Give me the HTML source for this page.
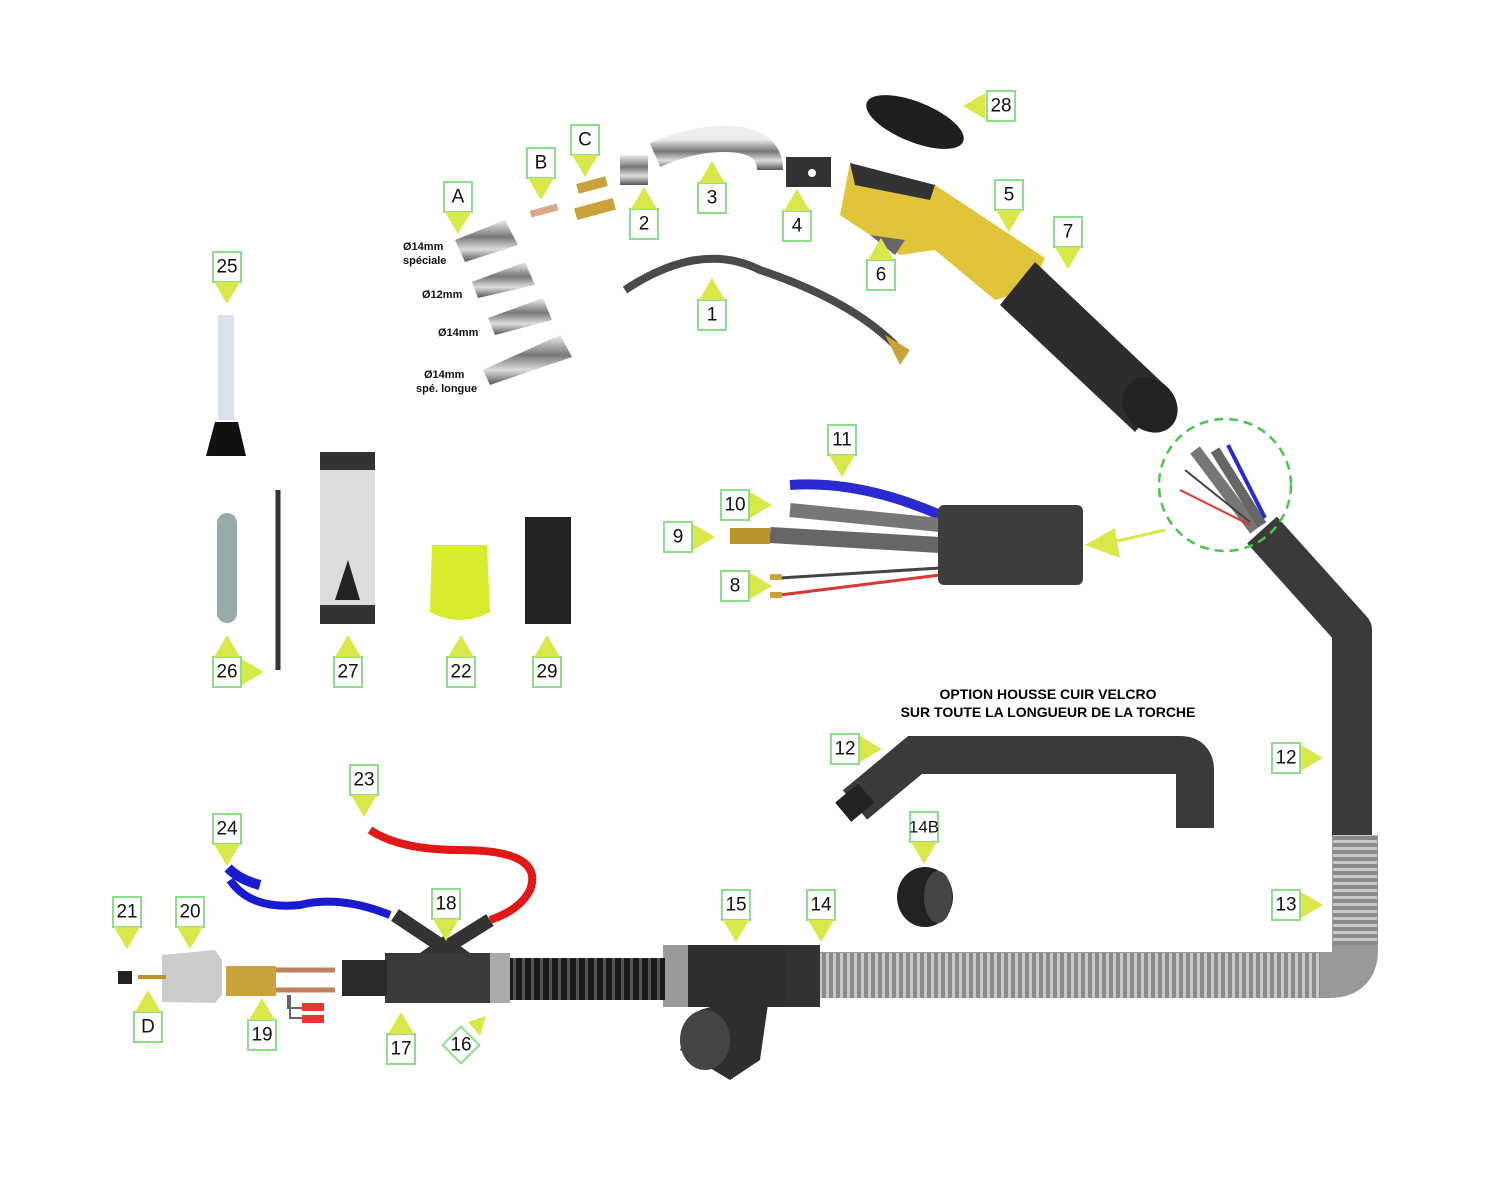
<!DOCTYPE html>
<html><head><meta charset="utf-8"><style>
html,body{margin:0;padding:0;background:#fff;}
svg{display:block;font-family:"Liberation Sans",sans-serif;}
.lb rect{fill:#fff;stroke:#8fdc8f;stroke-width:2}
.lb text{font-size:19px;fill:#111;text-anchor:middle;dominant-baseline:central}
.t{fill:#d9e74a}
.sm{font-size:11px;font-weight:bold;fill:#111}
</style></head><body>
<svg width="1500" height="1200" viewBox="0 0 1500 1200">
<defs>
<linearGradient id="chrome" x1="0" y1="0" x2="0" y2="1"><stop offset="0" stop-color="#eee"/><stop offset=".4" stop-color="#777"/><stop offset=".7" stop-color="#ddd"/><stop offset="1" stop-color="#555"/></linearGradient>
<pattern id="corr" width="7" height="7" patternUnits="userSpaceOnUse"><rect width="7" height="7" fill="#8a8a8a"/><rect width="3" height="7" fill="#c8c8c8"/></pattern>
<pattern id="corrh" width="7" height="7" patternUnits="userSpaceOnUse"><rect width="7" height="7" fill="#8a8a8a"/><rect width="7" height="3" fill="#c8c8c8"/></pattern>
<pattern id="corrb" width="9" height="9" patternUnits="userSpaceOnUse"><rect width="9" height="9" fill="#1a1a1a"/><rect width="3" height="9" fill="#555"/></pattern>
</defs>

<path d="M1262,530 L1352,630 L1352,835" fill="none" stroke="#3a3a3a" stroke-width="40" stroke-linejoin="round"/>
<path d="M1355,835 L1355,950 Q1355,975 1330,975 L820,975" fill="none" stroke="#999" stroke-width="46"/>
<rect x="1333" y="835" width="44" height="110" fill="url(#corrh)"/>
<rect x="820" y="953" width="500" height="45" fill="url(#corr)"/>
<circle cx="1225" cy="485" r="66" fill="none" stroke="#4dc24d" stroke-width="2.5" stroke-dasharray="9,6"/>
<path d="M1255,530 L1195,450" stroke="#777" stroke-width="12"/>
<path d="M1262,525 L1215,450" stroke="#666" stroke-width="10"/>
<path d="M1265,518 L1228,445" stroke="#2a2ad0" stroke-width="4" fill="none"/>
<path d="M1250,525 L1180,490" stroke="#d33" stroke-width="2"/>
<path d="M1250,522 L1185,470" stroke="#444" stroke-width="2"/>
<path d="M1165,530 L1100,545" stroke="#d9e74a" stroke-width="3"/>
<polygon class="t" points="1085,545 1115,528 1120,558"/>

<path d="M790,485 Q860,480 940,515" stroke="#2a2ad0" stroke-width="10" fill="none"/>
<path d="M790,510 L940,525" stroke="#777" stroke-width="14"/>
<path d="M770,535 L940,545" stroke="#666" stroke-width="16"/>
<rect x="730" y="528" width="40" height="16" fill="#b8962a"/>
<path d="M780,578 L940,568" stroke="#444" stroke-width="3"/>
<path d="M780,595 L940,575" stroke="#d33" stroke-width="3"/>
<rect x="770" y="574" width="12" height="6" fill="#c9a23a"/><rect x="770" y="592" width="12" height="6" fill="#c9a23a"/>
<rect x="938" y="505" width="145" height="80" rx="6" fill="#3d3d3d"/>

<text x="1048" y="699" font-size="14" font-weight="bold" text-anchor="middle">OPTION HOUSSE CUIR VELCRO</text>
<text x="1048" y="717" font-size="14" font-weight="bold" text-anchor="middle">SUR TOUTE LA LONGUEUR DE LA TORCHE</text>
<path d="M855,805 L915,755 L1180,755 Q1195,755 1195,770 L1195,828" fill="none" stroke="#3a3a3a" stroke-width="38"/>
<rect x="840" y="790" width="30" height="25" fill="#222" transform="rotate(-40 855 803)"/>
<ellipse cx="925" cy="897" rx="28" ry="30" fill="#222"/><ellipse cx="938" cy="897" rx="14" ry="26" fill="#444"/>

<rect x="663" y="945" width="125" height="62" fill="#2f2f2f"/>
<rect x="663" y="945" width="25" height="62" fill="#999"/>
<rect x="785" y="945" width="35" height="62" fill="#333"/>
<path d="M700,1010 L770,990 L760,1060 L730,1080 L680,1050Z" fill="#2f2f2f"/>
<ellipse cx="705" cy="1040" rx="25" ry="30" fill="#444"/>

<rect x="505" y="958" width="160" height="42" fill="url(#corrb)"/>
<rect x="485" y="953" width="25" height="50" fill="#aaa"/>
<rect x="385" y="953" width="105" height="50" fill="#3a3a3a"/>
<rect x="342" y="960" width="45" height="36" fill="#2a2a2a"/>
<path d="M420,953 L445,935 L470,953Z" fill="#333"/>
<path d="M395,915 L440,945" stroke="#333" stroke-width="14"/>
<path d="M490,920 L450,945" stroke="#333" stroke-width="14"/>
<path d="M230,880 Q250,910 300,905 Q340,895 390,915" stroke="#1a1ad0" stroke-width="8" fill="none"/>
<path d="M228,868 Q240,880 260,885" stroke="#1a1ad0" stroke-width="10" fill="none"/>
<path d="M370,830 Q400,850 460,850 Q545,850 530,890 Q520,910 490,920" stroke="#e01818" stroke-width="8" fill="none"/>

<rect x="226" y="966" width="50" height="30" fill="#c9a23a"/>
<path d="M276,970 L335,970 M276,990 L335,990" stroke="#c08060" stroke-width="5"/>
<path d="M290,995 L290,1018 L305,1018 M288,995 L288,1008 L305,1008" stroke="#666" stroke-width="2" fill="none"/>
<rect x="302" y="1003" width="22" height="8" fill="#e33"/><rect x="302" y="1015" width="22" height="8" fill="#e33"/>
<path d="M162,955 L215,950 L222,960 L222,995 L215,1003 L162,1002Z" fill="#ccc"/>
<rect x="118" y="971" width="14" height="13" fill="#222"/>
<rect x="138" y="975" width="28" height="4" fill="#b8962a"/>

<g fill="url(#chrome)">
<path d="M455,240 L505,220 L518,245 L465,262Z"/>
<path d="M472,282 L525,262 L535,285 L478,298Z"/>
<path d="M488,318 L543,298 L552,320 L495,335Z"/>
<path d="M483,370 L560,335 L572,357 L490,385Z"/>
<path d="M620,155 L648,155 L648,185 L620,185Z"/>
</g>
<text class="sm" x="403" y="250">Ø14mm</text><text class="sm" x="403" y="264">spéciale</text>
<text class="sm" x="422" y="298">Ø12mm</text>
<text class="sm" x="438" y="336">Ø14mm</text>
<text class="sm" x="424" y="378">Ø14mm</text><text class="sm" x="416" y="392">spé. longue</text>
<rect x="530" y="207" width="28" height="7" fill="#d8a888" transform="rotate(-15 544 210)"/>
<rect x="577" y="180" width="30" height="10" fill="#c9a23a" transform="rotate(-15 592 185)"/>
<rect x="575" y="203" width="40" height="12" fill="#c9a23a" transform="rotate(-15 595 209)"/>
<path d="M655,155 Q700,135 740,140 Q770,145 770,170" stroke="url(#chrome)" stroke-width="26" fill="none"/>
<rect x="786" y="157" width="45" height="30" fill="#333"/><circle cx="812" cy="173" r="4" fill="#fff"/>
<path d="M625,290 Q700,240 760,270 Q850,300 895,345" stroke="#4a4a4a" stroke-width="8" fill="none"/>
<path d="M885,335 L910,350 L900,365Z" fill="#c9a23a"/>
<path d="M850,163 L935,185 L1045,258 L1030,290 L995,300 L935,250 L900,255 L840,215Z" fill="#e0c43a"/>
<path d="M850,163 L935,185 L930,200 L855,185Z" fill="#333"/>
<path d="M870,235 L905,240 L895,255Z" fill="#666"/>
<path d="M1035,262 L1170,390 L1135,432 L1000,305Z" fill="#2d2d2d"/>
<ellipse cx="1150" cy="405" rx="25" ry="30" fill="#222" transform="rotate(-45 1150 405)"/>
<ellipse cx="915" cy="122" rx="52" ry="20" fill="#1e1e1e" transform="rotate(22 915 122)"/>

<rect x="218" y="315" width="16" height="105" fill="#dde0ee"/>
<path d="M215,422 L238,422 L246,456 L206,456Z" fill="#111"/>
<rect x="217" y="513" width="20" height="110" rx="10" fill="#9aa"/>
<path d="M278,490 L278,670" stroke="#333" stroke-width="5"/>
<rect x="320" y="452" width="55" height="172" fill="#ddd"/>
<rect x="320" y="452" width="55" height="18" fill="#333"/><rect x="320" y="605" width="55" height="19" fill="#333"/>
<path d="M335,600 L348,560 L360,600Z" fill="#222"/>
<path d="M432,545 L487,545 L490,612 Q460,628 430,612Z" fill="#d7eb2c"/>
<rect x="525" y="517" width="46" height="107" fill="#222"/>

<g class="lb">
<g transform="translate(458,197)"><rect x="-14" y="-15" width="28" height="30"/><text>A</text></g>
<g transform="translate(541,163)"><rect x="-14" y="-15" width="28" height="30"/><text>B</text></g>
<g transform="translate(585,140)"><rect x="-14" y="-15" width="28" height="30"/><text>C</text></g>
<g transform="translate(644,224)"><rect x="-14" y="-15" width="28" height="30"/><text>2</text></g>
<g transform="translate(712,198)"><rect x="-14" y="-15" width="28" height="30"/><text>3</text></g>
<g transform="translate(797,226)"><rect x="-14" y="-15" width="28" height="30"/><text>4</text></g>
<g transform="translate(1001,106)"><rect x="-14" y="-15" width="28" height="30"/><text>28</text></g>
<g transform="translate(1009,195)"><rect x="-14" y="-15" width="28" height="30"/><text>5</text></g>
<g transform="translate(1068,232)"><rect x="-14" y="-15" width="28" height="30"/><text>7</text></g>
<g transform="translate(881,275)"><rect x="-14" y="-15" width="28" height="30"/><text>6</text></g>
<g transform="translate(712,315)"><rect x="-14" y="-15" width="28" height="30"/><text>1</text></g>
<g transform="translate(227,267)"><rect x="-14" y="-15" width="28" height="30"/><text>25</text></g>
<g transform="translate(842,440)"><rect x="-14" y="-15" width="28" height="30"/><text>11</text></g>
<g transform="translate(735,505)"><rect x="-14" y="-15" width="28" height="30"/><text>10</text></g>
<g transform="translate(678,537)"><rect x="-14" y="-15" width="28" height="30"/><text>9</text></g>
<g transform="translate(735,586)"><rect x="-14" y="-15" width="28" height="30"/><text>8</text></g>
<g transform="translate(227,672)"><rect x="-14" y="-15" width="28" height="30"/><text>26</text></g>
<g transform="translate(348,672)"><rect x="-14" y="-15" width="28" height="30"/><text>27</text></g>
<g transform="translate(461,672)"><rect x="-14" y="-15" width="28" height="30"/><text>22</text></g>
<g transform="translate(547,672)"><rect x="-14" y="-15" width="28" height="30"/><text>29</text></g>
<g transform="translate(845,749)"><rect x="-14" y="-15" width="28" height="30"/><text>12</text></g>
<g transform="translate(1286,758)"><rect x="-14" y="-15" width="28" height="30"/><text>12</text></g>
<g transform="translate(924,827)"><rect x="-14" y="-15" width="28" height="30"/><text style="font-size:17px">14B</text></g>
<g transform="translate(1286,905)"><rect x="-14" y="-15" width="28" height="30"/><text>13</text></g>
<g transform="translate(364,780)"><rect x="-14" y="-15" width="28" height="30"/><text>23</text></g>
<g transform="translate(227,829)"><rect x="-14" y="-15" width="28" height="30"/><text>24</text></g>
<g transform="translate(446,904)"><rect x="-14" y="-15" width="28" height="30"/><text>18</text></g>
<g transform="translate(736,905)"><rect x="-14" y="-15" width="28" height="30"/><text>15</text></g>
<g transform="translate(821,905)"><rect x="-14" y="-15" width="28" height="30"/><text>14</text></g>
<g transform="translate(127,912)"><rect x="-14" y="-15" width="28" height="30"/><text>21</text></g>
<g transform="translate(190,912)"><rect x="-14" y="-15" width="28" height="30"/><text>20</text></g>
<g transform="translate(148,1027)"><rect x="-14" y="-15" width="28" height="30"/><text>D</text></g>
<g transform="translate(262,1035)"><rect x="-14" y="-15" width="28" height="30"/><text>19</text></g>
<g transform="translate(401,1049)"><rect x="-14" y="-15" width="28" height="30"/><text>17</text></g>
<g transform="translate(461,1045)"><rect x="-13" y="-13" width="26" height="26" transform="rotate(45)"/><text>16</text></g>
</g>
<g class="t">
<polygon points="445,212 471,212 458,234"/>
<polygon points="528,178 554,178 541,200"/>
<polygon points="572,155 598,155 585,177"/>
<polygon points="996,210 1022,210 1009,232"/>
<polygon points="1055,247 1081,247 1068,269"/>
<polygon points="214,282 240,282 227,304"/>
<polygon points="829,455 855,455 842,477"/>
<polygon points="911,842 937,842 924,864"/>
<polygon points="351,795 377,795 364,817"/>
<polygon points="214,844 240,844 227,866"/>
<polygon points="433,919 459,919 446,941"/>
<polygon points="723,920 749,920 736,942"/>
<polygon points="808,920 834,920 821,942"/>
<polygon points="114,927 140,927 127,949"/>
<polygon points="177,927 203,927 190,949"/>
<polygon points="631,209 657,209 644,187"/>
<polygon points="699,183 725,183 712,161"/>
<polygon points="784,211 810,211 797,189"/>
<polygon points="868,260 894,260 881,238"/>
<polygon points="699,300 725,300 712,278"/>
<polygon points="214,657 240,657 227,635"/>
<polygon points="335,657 361,657 348,635"/>
<polygon points="448,657 474,657 461,635"/>
<polygon points="534,657 560,657 547,635"/>
<polygon points="135,1012 161,1012 148,990"/>
<polygon points="249,1020 275,1020 262,998"/>
<polygon points="388,1034 414,1034 401,1012"/>
<polygon points="750,492 750,518 772,505"/>
<polygon points="693,524 693,550 715,537"/>
<polygon points="750,573 750,599 772,586"/>
<polygon points="242,659 242,685 264,672"/>
<polygon points="860,736 860,762 882,749"/>
<polygon points="1301,745 1301,771 1323,758"/>
<polygon points="1301,892 1301,918 1323,905"/>
<polygon points="985,93 985,119 963,106"/>
<polygon points="468,1022 486,1016 480,1036"/>
</g>
</svg>
</body></html>
